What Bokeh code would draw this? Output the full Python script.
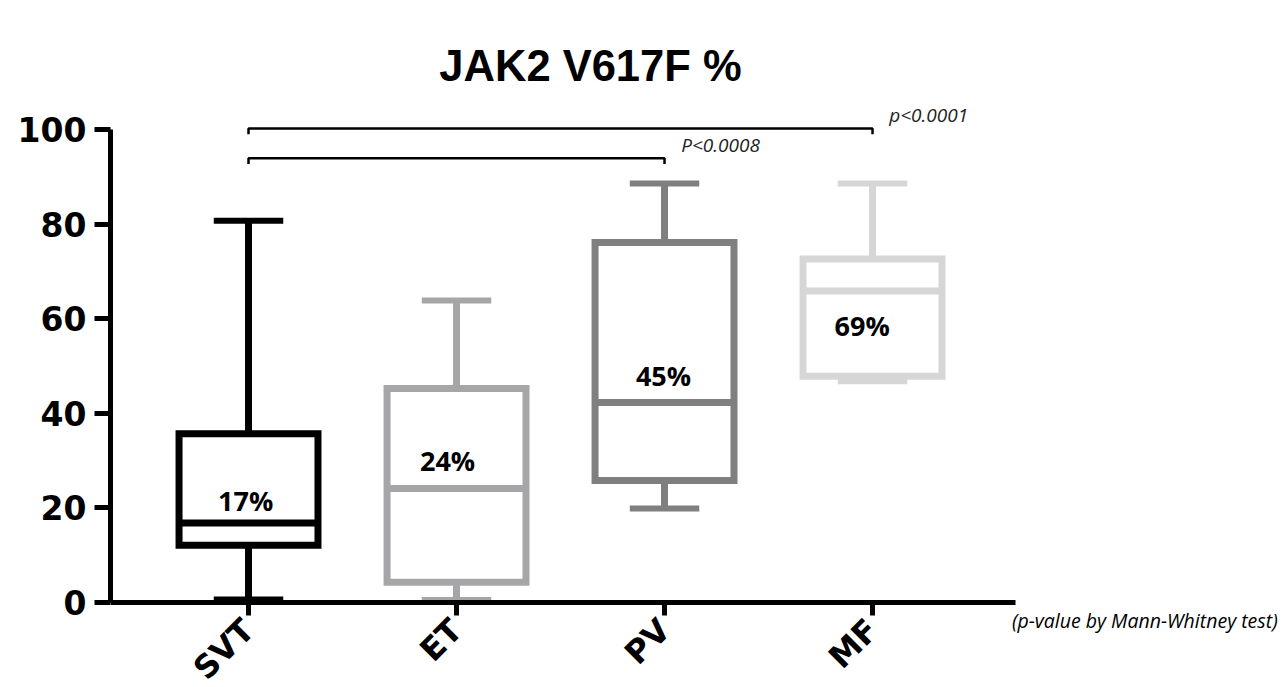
import math
from bokeh.plotting import figure
from bokeh.models import ColumnDataSource, FixedTicker, Label, Range1d
from bokeh.core.properties import value
from bokeh.embed import file_html
from bokeh.resources import INLINE

# ---- data ----
groups = ["SVT", "ET", "PV", "MF"]
whisker_low = [0.6, 0.5, 19.9, 46.8]
q1 = [12.1, 4.3, 25.8, 47.9]
median = [16.8, 24.1, 42.3, 65.9]
q3 = [35.7, 45.3, 76.2, 72.7]
whisker_high = [80.8, 63.9, 88.7, 88.7]
median_labels = ["17%", "24%", "45%", "69%"]
colors = ["#000000", "#a6a6a9", "#7f7f7f", "#d6d6d6"]
y_ticks = [0, 20, 40, 60, 80, 100]

bracket_from = ["SVT", "SVT"]
bracket_to = ["MF", "PV"]
bracket_y = [100.3, 94.0]
bracket_text = ["p<0.0001", "P<0.0008"]

title_text = "JAK2 V617F %"
footnote = "(p-value by Mann-Whitney test)"

# label placement (annotation positions)
label_dx = [-0.014, -0.043, -0.005, -0.05]
label_y = [21.6, 30.0, 48.0, 58.6]

xs = list(range(len(groups)))
box_half = 0.334
cap_half = 0.167

p = figure(frame_width=1177, frame_height=676,
           x_range=Range1d(-0.6635, 4.995), y_range=Range1d(-18.0, 125.08),
           output_backend="svg", toolbar_location=None,
           min_border_left=110, min_border_right=0,
           min_border_top=11, min_border_bottom=0)
p.outline_line_color = None
p.grid.visible = False
p.background_fill_color = "white"
p.border_fill_color = "white"

src = ColumnDataSource(dict(x=xs, lo=whisker_low, q1=q1, med=median, q3=q3,
                            hi=whisker_high, color=colors,
                            left=[x - box_half for x in xs],
                            right=[x + box_half for x in xs],
                            cl=[x - cap_half for x in xs],
                            cr=[x + cap_half for x in xs]))

# whiskers
p.segment(x0="x", y0="q3", x1="x", y1="hi", source=src, line_color="color",
          line_width=7, line_cap="butt")
p.segment(x0="x", y0="q1", x1="x", y1="lo", source=src, line_color="color",
          line_width=7, line_cap="butt")
# caps
p.segment(x0="cl", y0="hi", x1="cr", y1="hi", source=src, line_color="color",
          line_width=6, line_cap="butt")
p.segment(x0="cl", y0="lo", x1="cr", y1="lo", source=src, line_color="color",
          line_width=6, line_cap="butt")
# boxes
p.quad(left="left", right="right", bottom="q1", top="q3", source=src,
       fill_color="white", line_color="color", line_width=7,
       line_join="miter")
# medians
p.segment(x0="left", y0="med", x1="right", y1="med", source=src,
          line_color="color", line_width=7, line_cap="butt")

# median labels
lsrc = ColumnDataSource(dict(x=[x + d for x, d in zip(xs, label_dx)],
                             y=label_y, t=median_labels))
p.text(x="x", y="y", text="t", source=lsrc, text_align="center",
       text_baseline="middle", text_font=value("Open Sans"),
       text_font_style="bold", text_font_size="27px", text_color="black")

# significance brackets
drop = 1.2
bx, by = [], []
for a, b, yv in zip(bracket_from, bracket_to, bracket_y):
    x0 = groups.index(a)
    x1 = groups.index(b)
    bx.append([x0, x0, x1, x1])
    by.append([yv - drop, yv, yv, yv - drop])
p.multi_line(xs=bx, ys=by, line_color="black", line_width=2.5)
for b, yv, t in zip(bracket_to, bracket_y, bracket_text):
    x1 = groups.index(b)
    p.add_layout(Label(x=x1 + 0.08, y=yv + 2.8, text=t, text_align="left",
                       text_baseline="middle", text_font="Open Sans",
                       text_font_style="italic", text_font_size="19px",
                       text_color="#222222"))

# title
p.add_layout(Label(x=1.644, y=113.6, text=title_text, text_align="center",
                   text_baseline="middle", text_font="Liberation Sans",
                   text_font_style="bold", text_font_size="43.5px",
                   text_color="black"))
# footnote
p.add_layout(Label(x=3.67, y=-3.9, text=footnote, text_align="left",
                   text_baseline="middle", text_font="Open Sans",
                   text_font_style="italic", text_font_size="19.5px",
                   text_color="black"))

# axes
ya = p.yaxis[0]
ya.ticker = FixedTicker(ticks=y_ticks)
ya.bounds = (0, 100)
ya.axis_line_width = 5
ya.axis_line_color = "black"
ya.major_tick_line_width = 5
ya.major_tick_out = 16
ya.major_tick_in = 0
ya.minor_tick_line_color = None
ya.major_label_text_font = "DejaVu Sans"
ya.major_label_text_font_style = "bold"
ya.major_label_text_font_size = "33px"
ya.major_label_text_color = "black"
ya.major_label_standoff = 8

xa = p.xaxis[0]
xa.fixed_location = 0
xa.bounds = (-0.6635, 3.6875)
xa.ticker = FixedTicker(ticks=xs)
xa.major_label_overrides = {i: g for i, g in enumerate(groups)}
xa.axis_line_width = 5
xa.axis_line_color = "black"
xa.major_tick_line_width = 5
xa.major_tick_out = 13
xa.major_tick_in = 0
xa.minor_tick_line_color = None
xa.major_label_orientation = math.pi / 4
xa.major_label_text_font = "DejaVu Sans"
xa.major_label_text_font_style = "bold"
xa.major_label_text_font_size = "32px"
xa.major_label_text_color = "black"
xa.major_label_standoff = 9

open("out.html", "w").write(file_html(p, INLINE))
